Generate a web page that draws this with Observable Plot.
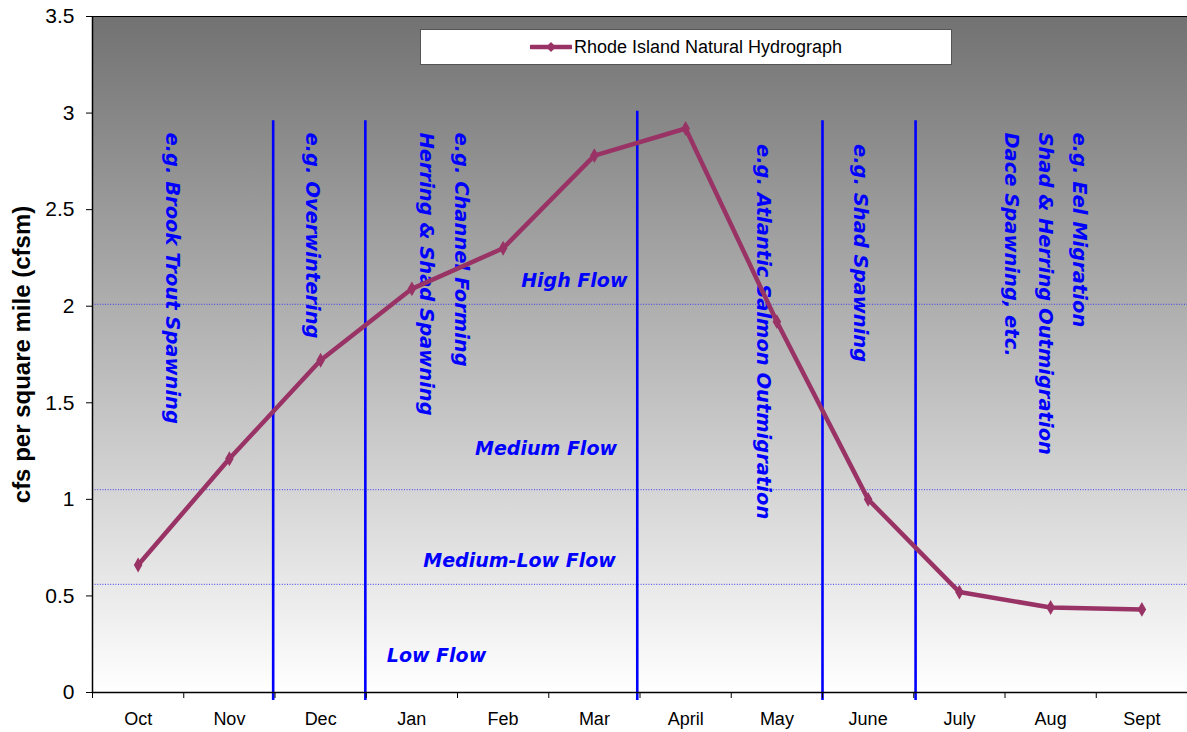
<!DOCTYPE html>
<html><head><meta charset="utf-8">
<script src="https://cdn.jsdelivr.net/npm/d3@7"></script>
<script src="https://cdn.jsdelivr.net/npm/@observablehq/plot@0.6"></script>
<style>
body{margin:0;background:#fff;font-family:"Liberation Sans",Arial,sans-serif;}
#wrap{position:relative;width:1187px;height:732px;overflow:hidden;}
#legend{position:absolute;left:420px;top:29px;width:530px;height:34px;background:#fff;border:1px solid #555;display:flex;align-items:center;justify-content:center;font-size:18px;color:#000;}
#legend svg{margin-right:2px;}
</style></head><body>
<div id="wrap"><div id="chart"></div>
<div id="legend"><svg width="42" height="14"><line x1="1" y1="7" x2="41" y2="7" stroke="#993366" stroke-width="4.5" stroke-linecap="round"/><path d="M21,2 L26,7 L21,12 L16,7 Z" fill="#993366"/></svg><span>Rhode Island Natural Hydrograph</span></div>
</div>
<script>
const months = ["Oct","Nov","Dec","Jan","Feb","Mar","April","May","June","July","Aug","Sept"];
const flow = [0.66,1.21,1.72,2.09,2.30,2.78,2.92,1.92,1.00,0.52,0.44,0.43];
const yTicks = [0,0.5,1,1.5,2,2.5,3,3.5];
const flowThresholds = [2.01,1.05,0.56];
const flowLabels = ["High Flow","Medium Flow","Medium-Low Flow","Low Flow"];
const flowLabelY = [2.13,1.26,0.68,0.19];
const flowLabelX = [5.28,4.97,4.68,3.77];
const dividers = [1.98,2.99,5.97,8.00,9.02];
const dividerTop = [2.96,2.96,3.01,2.96,2.96];
const notes = ["e.g. Brook Trout Spawning","e.g. Overwintering","e.g. Channel Forming\nHerring & Shad Spawning","e.g. Atlantic Salmon Outmigration","e.g. Shad Spawning","e.g. Eel Migration\nShad & Herring Outmigration\nDace Spawning, etc."];
const noteX = [0.93,2.46,3.90,7.40,8.47,10.49];
const noteTop = [2.90,2.90,2.90,2.84,2.84,2.90];

const series = months.map((m,i)=>({m, i, x:i+0.5, v:flow[i]}));
const divs = dividers.map((d,i)=>({x:d, top:dividerTop[i]}));
const flows = flowLabels.map((t,i)=>({t, x:flowLabelX[i], y:flowLabelY[i]}));
const noteData = notes.map((t,i)=>({t, x:noteX[i], y:noteTop[i]}));
const annFont = "'DejaVu Sans', 'Comic Sans MS', sans-serif";

const plot = Plot.plot({
  width:1187, height:732,
  marginLeft:92, marginRight:0, marginTop:16, marginBottom:40,
  style:{fontFamily:"'Liberation Sans', Arial, sans-serif", fontSize:"18px", color:"#000", background:"#fff"},
  x:{domain:[0,12]},
  y:{domain:[0,3.5]},
  marks:[
    Plot.frame({fill:"url(#bg)", stroke:null}),
    Plot.ruleY(flowThresholds, {stroke:"#3b3bf0", strokeWidth:1, strokeDasharray:"1,1.6"}),
    Plot.ruleX(divs, {x:"x", y1:-0.042, y2:"top", stroke:"#0000ff", strokeWidth:2.6}),
    Plot.text(noteData, {x:"x", y:"y", text:"t", rotate:90, textAnchor:"start", lineAnchor:"middle", lineHeight:1.75, fontSize:19.5, fontStyle:"italic", fontWeight:"bold", fontFamily:annFont, fill:"#0000ff"}),
    Plot.text(flows, {x:"x", y:"y", text:"t", fontSize:19, fontStyle:"italic", fontWeight:"bold", fontFamily:annFont, fill:"#0000ff"}),
    Plot.line(series, {x:"x", y:"v", stroke:"#993366", strokeWidth:4.5, strokeLinejoin:"round"}),
    Plot.dot(series, {x:"x", y:"v", symbol:"diamond", r:4.5, fill:"#993366", stroke:null}),
    Plot.ruleY([3.5], {stroke:"#000", strokeWidth:1.2}),
    Plot.ruleY([0], {stroke:"#000", strokeWidth:1.5}),
    Plot.ruleX([0], {y1:0, y2:3.5, stroke:"#000", strokeWidth:1.5}),
    Plot.axisY({ticks:yTicks, tickFormat:d=>String(d), tickSize:6, tickPadding:12, fontSize:21, label:null}),
    Plot.axisX({ticks:d3.range(0,13), tickFormat:()=>"", tickSize:6, label:null}),
    Plot.axisX({ticks:months.map((m,i)=>i+0.5), tickFormat:(d)=>months[Math.round(d-0.5)], tickSize:0, tickPadding:20, fontSize:18, label:null}),
    Plot.text(["cfs per square mile (cfsm)"], {text:d=>d, frameAnchor:"left", textAnchor:"middle", dx:-70, rotate:-90, fontWeight:"bold", fontSize:24})
  ]
});
const svg = d3.select(plot);
const defs = svg.insert("defs", ":first-child");
const g = defs.append("linearGradient").attr("id","bg").attr("x1",0).attr("y1",0).attr("x2",0).attr("y2",1);
g.append("stop").attr("offset","0%").attr("stop-color","#727272");
g.append("stop").attr("offset","100%").attr("stop-color","#ffffff");
document.getElementById("chart").appendChild(plot);
</script>
</body></html>
